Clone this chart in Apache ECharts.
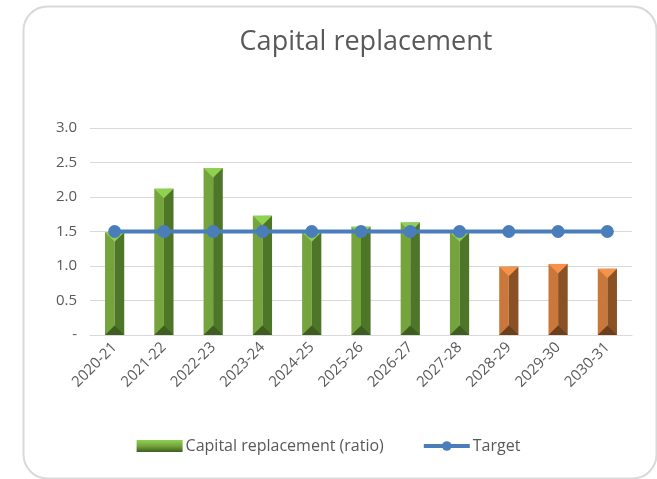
<!DOCTYPE html>
<html>
<head>
<meta charset="utf-8">
<script src="https://cdn.jsdelivr.net/npm/echarts@6/dist/echarts.min.js"></script>
<style>
  html, body { margin: 0; padding: 0; background: #fff; }
  #main { width: 657px; height: 479px; }
</style>
</head>
<body>
<div id="main"></div>
<script>
// values
var years = ['2020-21', '2021-22', '2022-23', '2023-24', '2024-25', '2025-26',
             '2026-27', '2027-28', '2028-29', '2029-30', '2030-31'];
var ratio = [1.49, 2.12, 2.42, 1.73, 1.49, 1.57, 1.63, 1.49, 0.99, 1.03, 0.96];
var target = [1.5, 1.5, 1.5, 1.5, 1.5, 1.5, 1.5, 1.5, 1.5, 1.5, 1.5];
var forecastFrom = 8; // index where bars turn orange

var myChart = echarts.init(document.getElementById('main'));

var green = {left: '#75a33c', right: '#4e7629', top: '#8fd150', bottom: '#3d5e20'};
var orange = {left: '#c9773a', right: '#8a5224', top: '#f5934b', bottom: '#6b3f1b'};

// excel-ish bevel bar
function renderBar(params, api) {
    var idx = api.value(0);
    var p = api.coord([idx, api.value(1)]);
    var p0 = api.coord([idx, 0]);
    var w = api.size([1, 0])[0] * 0.39;
    var x0 = p[0] - w / 2, x1 = p[0] + w / 2, xm = p[0];
    var yt = p[1], yb = p0[1];
    var d = Math.min(w / 2, (yb - yt) / 2);
    var c = idx >= forecastFrom ? orange : green;
    return {
        type: 'group',
        children: [
            {type: 'rect', shape: {x: x0, y: yt, width: w / 2, height: yb - yt}, style: {fill: c.left}},
            {type: 'rect', shape: {x: xm, y: yt, width: w / 2, height: yb - yt}, style: {fill: c.right}},
            {type: 'polygon', shape: {points: [[x0, yt], [x1, yt], [xm, yt + d]]}, style: {fill: c.top}},
            {type: 'polygon', shape: {points: [[x0, yb], [x1, yb], [xm, yb - d]]}, style: {fill: c.bottom}}
        ]
    };
}

var option = {
    backgroundColor: '#fff',
    animation: false,
    title: {
        text: 'Capital replacement',
        left: 361,
        textAlign: 'center',
        top: 24,
        textStyle: {color: '#595959', fontSize: 27, fontWeight: 'normal', fontFamily: 'Open Sans'}
    },
    graphic: [{
        type: 'rect',
        left: 21, top: 4,
        shape: {width: 633, height: 472, r: 24},
        style: {fill: 'none', stroke: '#d9d9d9', lineWidth: 2},
        z: -1
    }],
    legend: {
        bottom: 20,
        left: 'center',
        itemWidth: 46,
        itemHeight: 12,
        itemGap: 38,
        textStyle: {color: '#595959', fontSize: 16, fontFamily: 'Open Sans', padding: [0, 0, 0, -2]},
        data: [
            {name: 'Capital replacement (ratio)', icon: 'rect',
             itemStyle: {color: new echarts.graphic.LinearGradient(0, 0, 0, 1, [
                 {offset: 0, color: green.top}, {offset: 0.5, color: green.left},
                 {offset: 1, color: green.bottom}])}},
            {name: 'Target', lineStyle: {width: 4}}
        ]
    },
    grid: {left: 90, right: 25, top: 128, bottom: 144},
    xAxis: {
        type: 'category',
        data: years,
        axisLine: {lineStyle: {color: '#d9d9d9'}},
        axisTick: {show: false},
        axisLabel: {rotate: 45, color: '#595959', fontSize: 15, margin: 10, fontFamily: 'Open Sans'}
    },
    yAxis: {
        type: 'value',
        min: 0, max: 3, interval: 0.5,
        axisLine: {show: false},
        axisTick: {show: false},
        splitLine: {lineStyle: {color: '#d9d9d9', width: 1}},
        axisLabel: {
            color: '#595959', fontSize: 15, margin: 13, fontFamily: 'Open Sans',
            formatter: function (v) { return v === 0 ? '-' : v.toFixed(1); }
        }
    },
    series: [{
        name: 'Capital replacement (ratio)',
        type: 'custom',
        renderItem: renderBar,
        encode: {x: 0, y: 1},
        data: ratio.map(function (v, i) { return [i, v]; }),
        z: 2
    }, {
        name: 'Target',
        type: 'line',
        data: target,
        symbol: 'circle',
        symbolSize: 13,
        lineStyle: {color: '#4a7ebb', width: 4},
        itemStyle: {color: '#4a7ebb'},
        z: 3
    }]
};

myChart.setOption(option);
</script>
</body>
</html>
